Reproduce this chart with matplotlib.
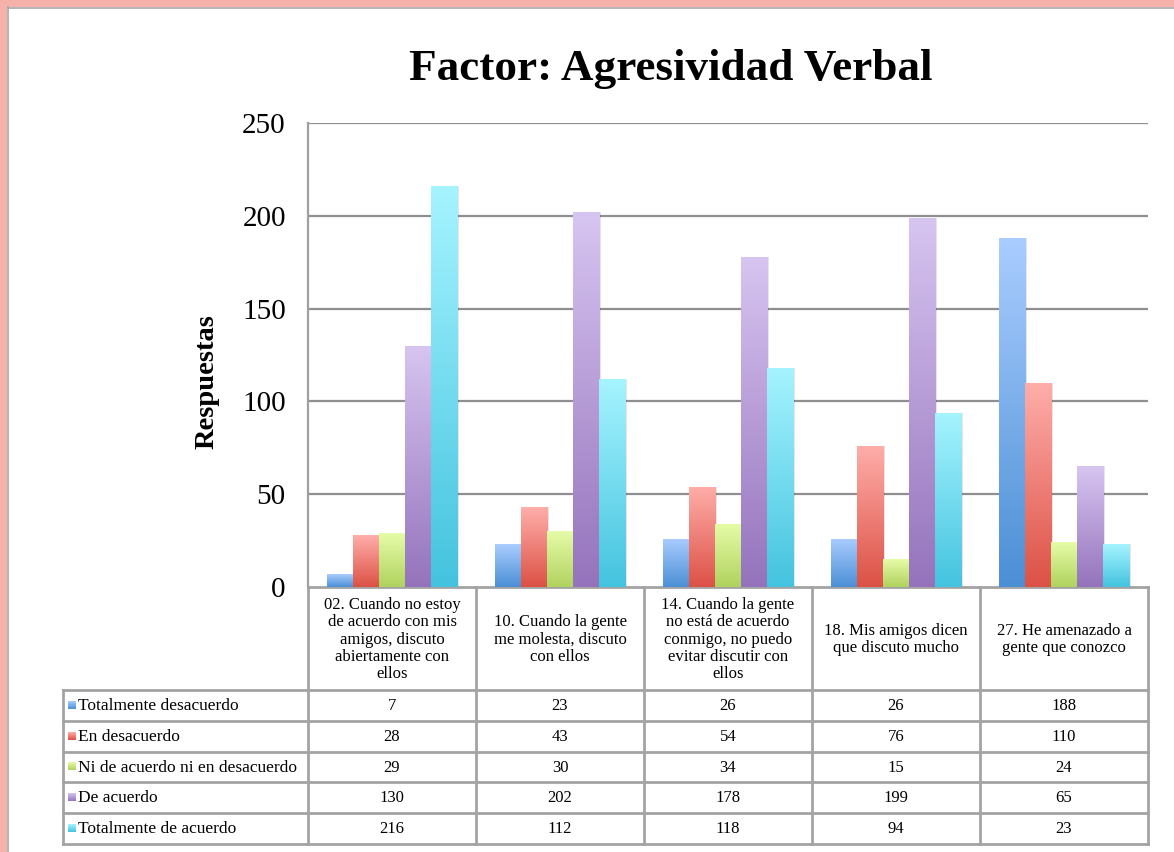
import numpy as np
import matplotlib
matplotlib.use("Agg")
import matplotlib.pyplot as plt
from matplotlib.colors import LinearSegmentedColormap
from matplotlib.patches import Rectangle
from matplotlib.transforms import blended_transform_factory

# ---------------- data ----------------
title = "Factor: Agresividad Verbal"
ylabel = "Respuestas"
categories = [
    "02. Cuando no estoy\nde acuerdo con mis\namigos, discuto\nabiertamente con\nellos",
    "10. Cuando la gente\nme molesta, discuto\ncon ellos",
    "14. Cuando la gente\nno está de acuerdo\nconmigo, no puedo\nevitar discutir con\nellos",
    "18. Mis amigos dicen\nque discuto mucho",
    "27. He amenazado a\ngente que conozco",
]
series_names = [
    "Totalmente desacuerdo",
    "En desacuerdo",
    "Ni de acuerdo ni en desacuerdo",
    "De acuerdo",
    "Totalmente de acuerdo",
]
totalmente_desacuerdo = [7, 23, 26, 26, 188]
en_desacuerdo = [28, 43, 54, 76, 110]
ni_de_acuerdo_ni_en_desacuerdo = [29, 30, 34, 15, 24]
de_acuerdo = [130, 202, 178, 199, 65]
totalmente_de_acuerdo = [216, 112, 118, 94, 23]
series_values = [totalmente_desacuerdo, en_desacuerdo,
                 ni_de_acuerdo_ni_en_desacuerdo, de_acuerdo, totalmente_de_acuerdo]
yticks = [0, 50, 100, 150, 200, 250]

# gradient colours (top, bottom)
grad_colors = [
    ("#aacdff", "#4b8fd5"),
    ("#ffaeaa", "#dc5145"),
    ("#e6fca8", "#b0d25e"),
    ("#d7c5f1", "#9573bc"),
    ("#a6f4ff", "#44c3df"),
]

FONT = "Liberation Serif"
plt.rcParams["font.family"] = [FONT, "DejaVu Serif"]

W, H = 1174, 852
fig = plt.figure(figsize=(W / 100, H / 100), dpi=100)
fig.patch.set_facecolor("white")

# overlay axes in pixel units
px = fig.add_axes([0, 0, 1, 1], zorder=0)
px.set_xlim(0, W)
px.set_ylim(H, 0)
px.axis("off")

# pink frame (left & top) + grey inner line
pink = "#f5b1aa"
px.add_patch(Rectangle((0, 0), 7, H, facecolor=pink, edgecolor="none"))
px.add_patch(Rectangle((0, 0), W, 6.5, facecolor=pink, edgecolor="none"))
px.plot([7.5, 7.5], [7, H], color="#a8a8a8", lw=1.2)
px.plot([7.5, W], [7.5, 7.5], color="#a8a8a8", lw=1.2)

# chart axes
ax = fig.add_axes([308 / W, (H - 587) / H, 840 / W, 464 / H], zorder=2)
ax.patch.set_alpha(0)
n = len(categories)
x = np.arange(n)
ax.set_xlim(-0.5, n - 0.5)
ax.set_ylim(yticks[0], yticks[-1])
ax.set_yticks(yticks)
ax.set_yticklabels([str(t) for t in yticks], fontsize=21, family=FONT)
ax.tick_params(axis="y", length=0, pad=16)
ax.set_xticks([])
for s in ["top", "right", "bottom"]:
    ax.spines[s].set_visible(False)
ax.spines["left"].set_color("#a0a0a0")
ax.spines["left"].set_linewidth(1.6)
for t in yticks[1:]:
    ax.axhline(t, color="#8f8f8f", lw=1.6, zorder=1)

bw = 0.155
grad = np.linspace(0, 1, 256).reshape(-1, 1)
for k, (vals, (ctop, cbot)) in enumerate(zip(series_values, grad_colors)):
    cmap = LinearSegmentedColormap.from_list(f"g{k}", [cbot, ctop])
    offs = (k - 2) * bw
    # soft shadow
    ax.bar(x + offs + 0.012, np.array(vals) + 0.8, width=bw, bottom=-0.8,
           color="black", alpha=0.10, zorder=2, linewidth=0)
    bars = ax.bar(x + offs, vals, width=bw, color=cbot, zorder=3, linewidth=0)
    for b in bars:
        bx, by, bwid, bh = b.get_x(), b.get_y(), b.get_width(), b.get_height()
        im = ax.imshow(grad, extent=[bx, bx + bwid, by, by + bh], origin="lower",
                       aspect="auto", cmap=cmap, zorder=4, interpolation="bilinear")
        im.set_clip_path(b)
ax.set_xlim(-0.5, n - 0.5)
ax.set_ylim(yticks[0], yticks[-1])

fig.text(207 / W, 1 - 382 / H, ylabel, fontsize=20.5, fontweight="bold",
         family=FONT, rotation=90, ha="center", va="center")

fig.text(671 / W, 1 - 69 / H, title, fontsize=32.5, fontweight="bold",
         family=FONT, ha="center", va="center")

# ---------------- data table ----------------
tr = blended_transform_factory(ax.transData, px.transData)
label_col = (308 - 63) / 168.0
gcol = "#a3a3a3"
lw = 2.0
y_head_top, y_head_bot = 587, 690
row_h = (844 - 690) / len(series_names)
row_edges = [y_head_bot + i * row_h for i in range(len(series_names) + 1)]
xl = -0.5 - label_col
xr = n - 0.5
px.plot([-0.5, xr], [y_head_top, y_head_top], color=gcol, lw=lw, transform=tr)
for ye in row_edges:
    px.plot([xl, xr], [ye, ye], color=gcol, lw=lw, transform=tr)
for i in range(n + 1):
    px.plot([i - 0.5, i - 0.5], [y_head_top, row_edges[-1]], color=gcol, lw=lw, transform=tr)
px.plot([xl, xl], [y_head_bot, row_edges[-1]], color=gcol, lw=lw, transform=tr)

for i, c in enumerate(categories):
    px.text(i, (y_head_top + y_head_bot) / 2 + 1, c, transform=tr, ha="center", va="center",
            fontsize=12, linespacing=1.12, family=FONT)

for r, (name, vals, (ctop, cbot)) in enumerate(zip(series_names, series_values, grad_colors)):
    yc = (row_edges[r] + row_edges[r + 1]) / 2
    cmap = LinearSegmentedColormap.from_list(f"k{r}", [ctop, cbot])
    px.imshow(grad, extent=[68, 76, yc + 3.5, yc - 4.5], origin="upper", aspect="auto",
              cmap=cmap, zorder=3)
    px.text(78, yc + 0.5, name, ha="left", va="center", fontsize=12.5, family=FONT)
    for i, v in enumerate(vals):
        px.text(i, yc + 0.5, str(v), transform=tr, ha="center", va="center",
                fontsize=12, family=FONT)
px.set_xlim(0, W)
px.set_ylim(H, 0)

fig.savefig("out.png", dpi=100, facecolor="white")
